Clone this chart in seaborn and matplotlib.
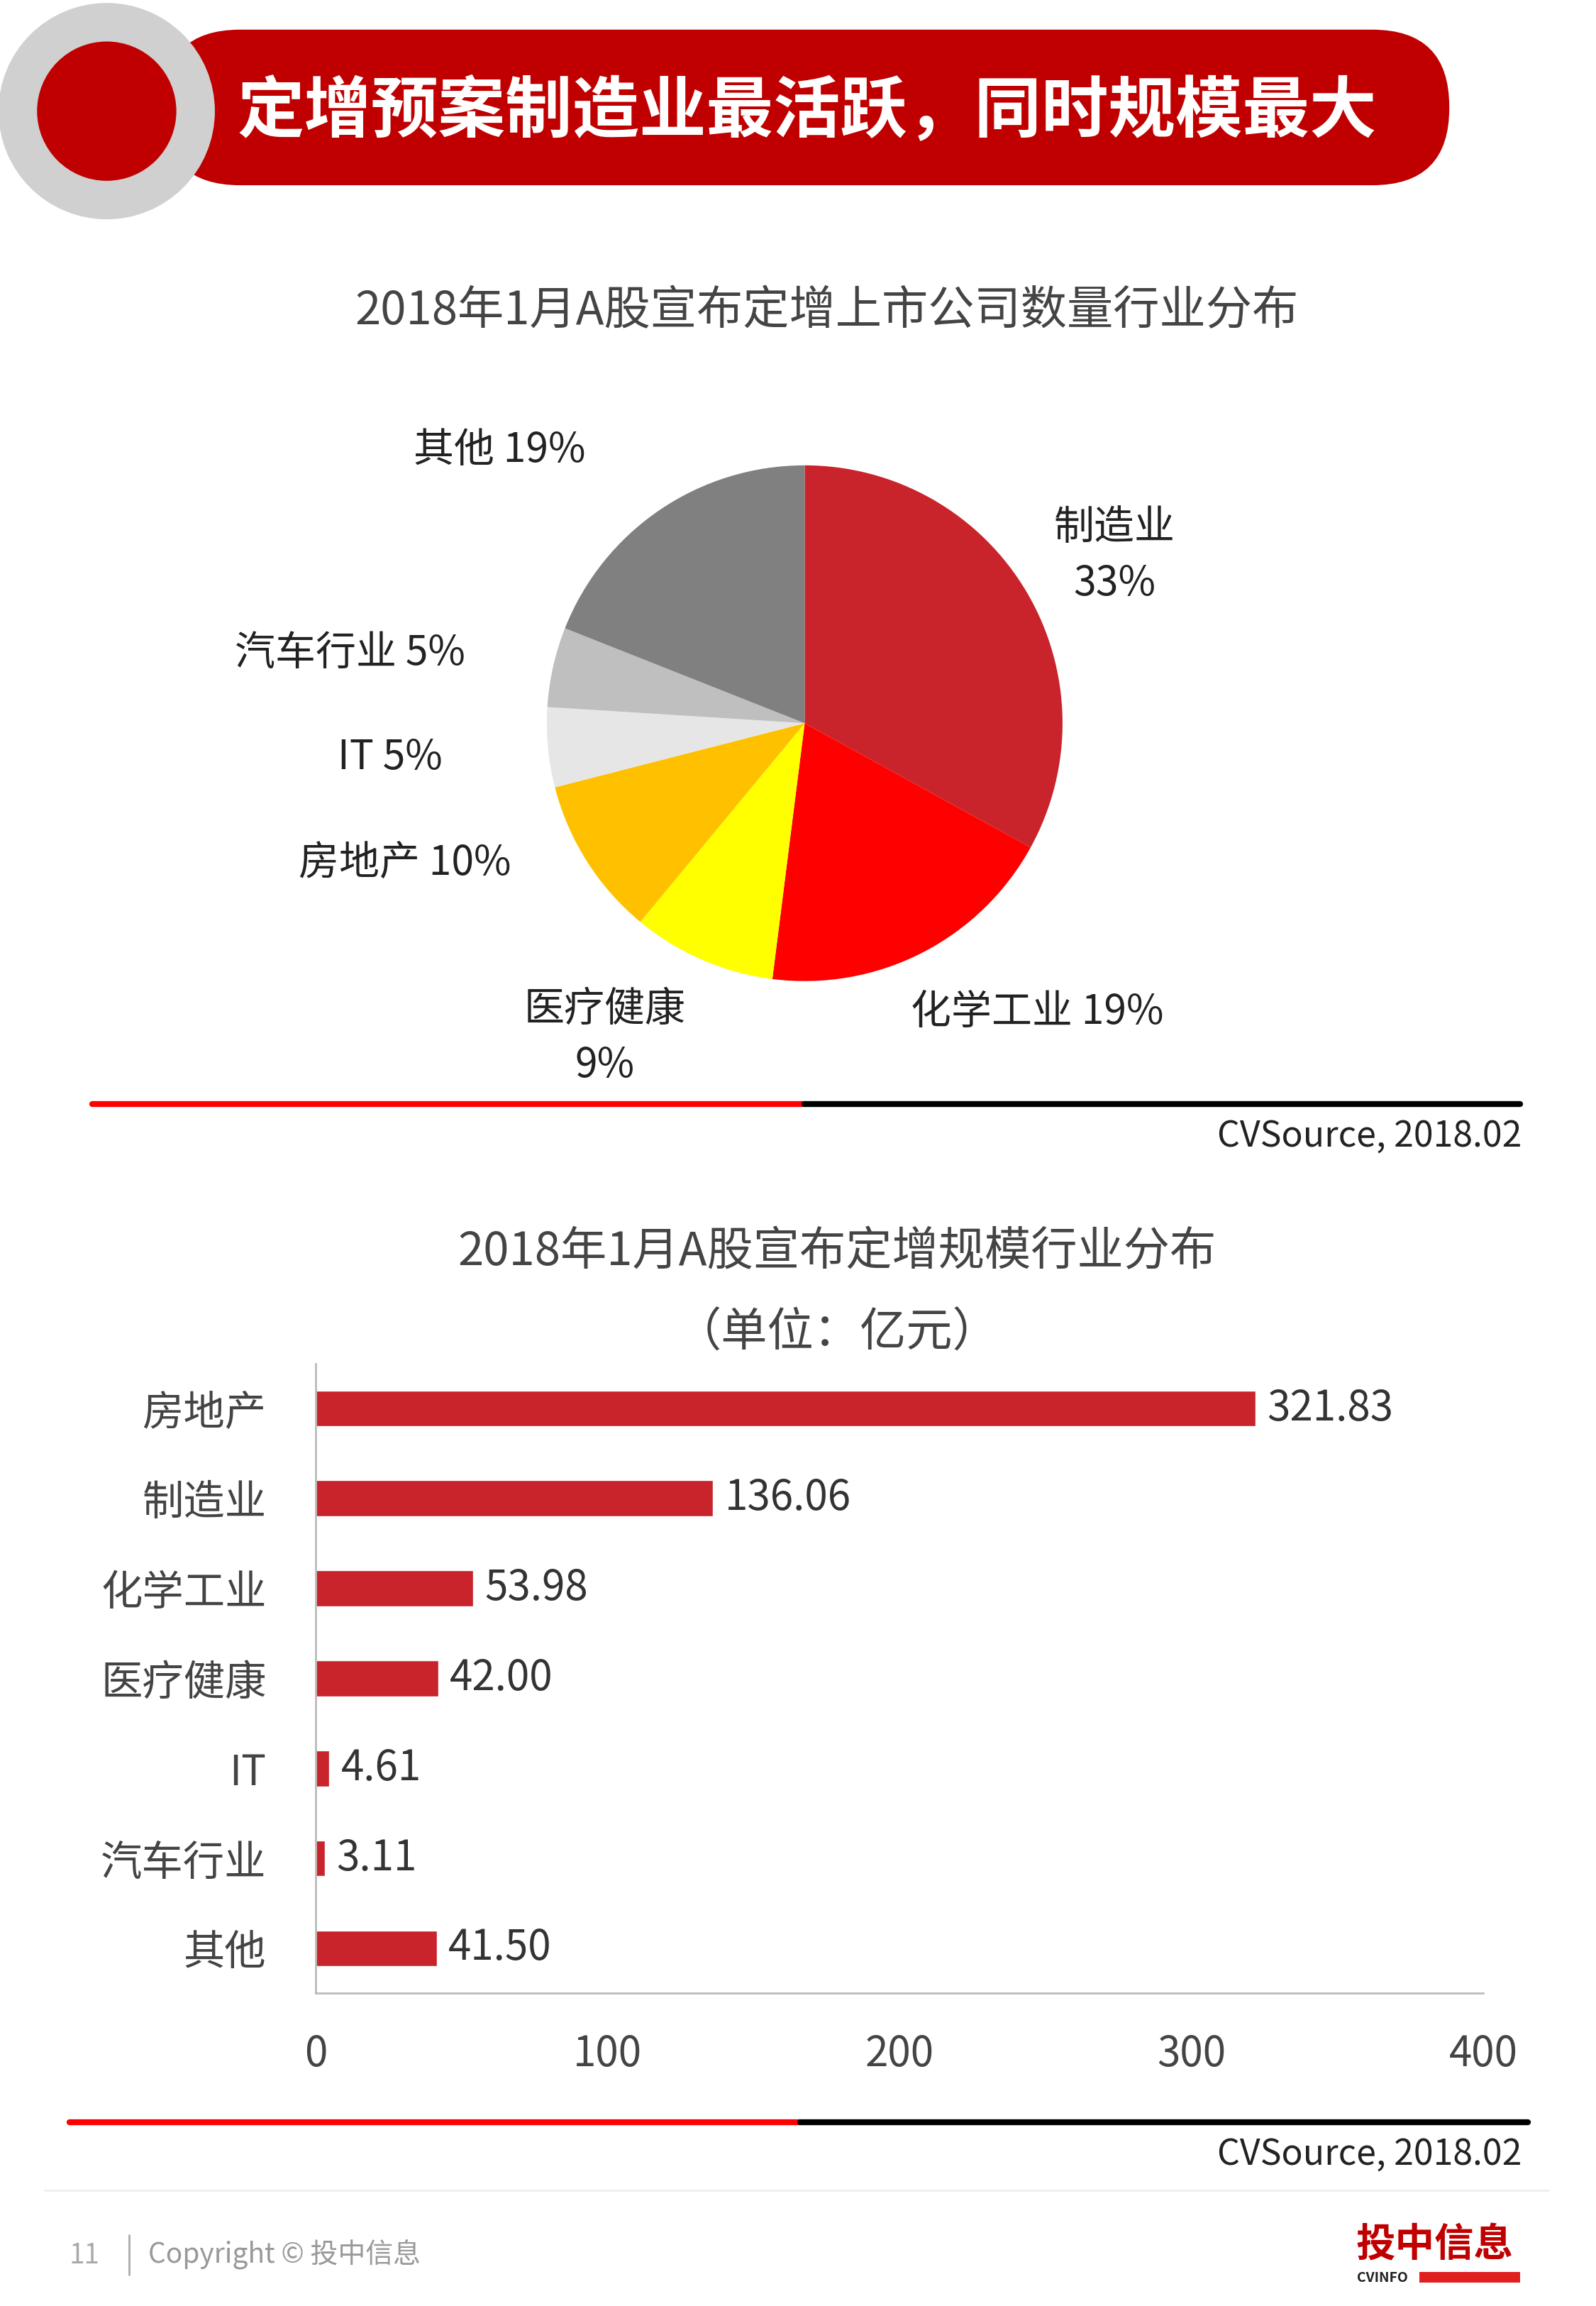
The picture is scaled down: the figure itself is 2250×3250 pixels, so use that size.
import matplotlib
matplotlib.use("Agg")
import matplotlib.pyplot as plt
import seaborn as sns
import pandas as pd
import numpy as np
from matplotlib.patches import Circle, FancyBboxPatch, Rectangle
from matplotlib.lines import Line2D

sns.set_theme(style="white")
plt.rcParams['font.family'] = ['Noto Sans CJK SC', 'DejaVu Sans']

# ---------- data ----------
pie_labels = ["制造业", "化学工业", "医疗健康", "房地产", "IT", "汽车行业", "其他"]
pie_values = [33, 19, 9, 10, 5, 5, 19]
pie_colors = ["#C9232B", "#FF0000", "#FFFF00", "#FFC000", "#E6E6E6", "#BFBFBF", "#808080"]
pie_texts = ["制造业\n33%", "化学工业 19%", "医疗健康\n9%", "房地产 10%", "IT 5%", "汽车行业 5%", "其他 19%"]

bar_cats = ["房地产", "制造业", "化学工业", "医疗健康", "IT", "汽车行业", "其他"]
bar_vals = [321.83, 136.06, 53.98, 42.00, 4.61, 3.11, 41.50]
x_ticks = [0, 100, 200, 300, 400]

W, H = 1077.0, 1556.0
def fx(x): return x / W
def fy(y): return 1 - y / H

fig = plt.figure(figsize=(22.5, 32.5), dpi=100)
fig.patch.set_facecolor("white")

# ---------- header ----------
hax = fig.add_axes([0, 0, 1, 1])
hax.set_xlim(0, W); hax.set_ylim(H, 0); hax.axis("off")
hax.add_patch(FancyBboxPatch((110, 20), 868, 105, boxstyle="round,pad=0,rounding_size=52",
                             fc="#C00000", ec="none"))
hax.add_patch(Circle((72, 75), 73, fc="#D0D0D0", ec="none"))
hax.add_patch(Circle((72, 75), 47, fc="#C00000", ec="none"))
hax.text(160, 76, "定增预案制造业最活跃，同时规模最大", color="white", fontsize=68,
         fontweight="bold", va="center", ha="left")

# separators
hax.add_line(Line2D([62, 543], [745, 745], color="#FF0000", lw=6))
hax.add_line(Line2D([543, 1026], [745, 745], color="black", lw=6))
hax.text(1027, 767, "CVSource, 2018.02", ha="right", va="center", fontsize=36, color="#222222")
hax.add_line(Line2D([47, 540], [1432, 1432], color="#FF0000", lw=6))
hax.add_line(Line2D([540, 1031], [1432, 1432], color="black", lw=6))
hax.text(1027, 1454, "CVSource, 2018.02", ha="right", va="center", fontsize=36, color="#222222")

# footer
hax.add_line(Line2D([30, 1045], [1478, 1478], color="#EEEEEE", lw=2))
hax.text(57, 1522, "11", ha="center", va="center", fontsize=28, color="#AAAAAA")
hax.add_line(Line2D([87, 87], [1508, 1535], color="#AAAAAA", lw=2))
hax.text(100, 1521, "Copyright © 投中信息", ha="left", va="center", fontsize=28, color="#999999")
hax.text(968, 1515, "投中信息", ha="center", va="center", fontsize=40, fontweight="bold", color="#C00000")
hax.text(933, 1537, "CVINFO", ha="center", va="center", fontsize=14, fontweight="bold", color="#222222")
hax.add_patch(Rectangle((958, 1533), 68, 7, fc="#E02020", ec="none"))

# ---------- pie ----------
fig.text(fx(558), fy(210), "2018年1月A股宣布定增上市公司数量行业分布", ha="center", va="center",
         fontsize=47, color="#444444")
r = 174
pax = fig.add_axes([fx(543 - r), fy(488 + r), 2 * r / W, 2 * r / H])
pax.pie(pie_values, colors=pie_colors, startangle=90, counterclock=False,
        wedgeprops=dict(linewidth=0))
pax.set_xlim(-1, 1); pax.set_ylim(-1, 1); pax.set_aspect("auto")
label_pos = [(752, 375), (700, 683), (408, 700), (273, 583), (263, 511), (236, 441), (337, 304)]
for t, (x, y) in zip(pie_texts, label_pos):
    fig.text(fx(x), fy(y), t, ha="center", va="center", fontsize=41, color="#222222",
             linespacing=1.45)

# ---------- bars ----------
fig.text(fx(565), fy(845), "2018年1月A股宣布定增规模行业分布", ha="center", va="center",
         fontsize=47, color="#444444")
fig.text(fx(565), fy(900), "（单位：亿元）", ha="center", va="center", fontsize=47, color="#444444")
bax = fig.add_axes([fx(213), fy(1345), (1001 - 213) / W, (1345 - 920) / H])
df = pd.DataFrame({"cat": bar_cats, "val": bar_vals})
sns.barplot(data=df, x="val", y="cat", orient="h", color="#C9232B", width=0.4,
            saturation=1, ax=bax)
bax.set_xlim(0, 400); bax.set_ylim(6.5, -0.5)
bax.set_xticks(x_ticks)
bax.set_xticklabels([str(v) for v in x_ticks], fontsize=42, color="#444444")
bax.tick_params(axis="y", labelsize=42, labelcolor="#444444", length=0, pad=50)
bax.tick_params(axis="x", length=0, pad=40)
bax.set_xlabel(""); bax.set_ylabel("")
for s in ["top", "right"]:
    bax.spines[s].set_visible(False)
for s in ["left", "bottom"]:
    bax.spines[s].set_color("#BBBBBB"); bax.spines[s].set_linewidth(2)
for i, v in enumerate(bar_vals):
    bax.text(v + 4, i, f"{v:.2f}", va="center", ha="left", fontsize=42, color="#333333")

fig.savefig("out.png", dpi=100, facecolor="white")
